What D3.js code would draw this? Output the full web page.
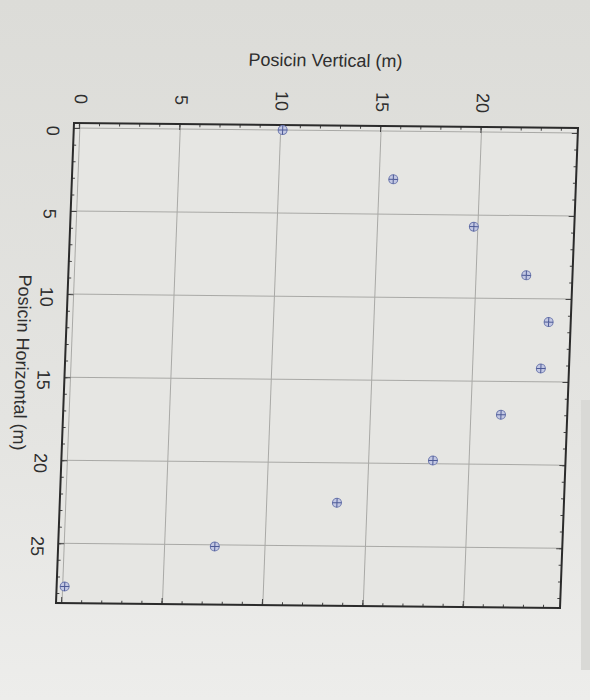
<!DOCTYPE html>
<html>
<head>
<meta charset="utf-8">
<script src="https://cdn.jsdelivr.net/npm/d3@7"></script>
<style>
  html, body { margin: 0; padding: 0; background: #e4e4e1; }
  svg { display: block; }
</style>
</head>
<body>
<svg id="chart" width="590" height="700"></svg>
<script>
// ---- data ----
const horizontalPos = [0, 2.9, 5.7, 8.6, 11.4, 14.2, 17.0, 19.8, 22.4, 25.1, 27.6];
const verticalPos   = [10.1, 15.7, 19.8, 22.5, 23.7, 23.4, 21.5, 18.2, 13.5, 7.5, 0.1];
const xTickValues = [0, 5, 10, 15, 20, 25];
const yTickValues = [0, 5, 10, 15, 20];
const xTitle = "Posicin Horizontal (m)";
const yTitle = "Posicin Vertical (m)";

const svg = d3.select("#chart");
const defs = svg.append("defs");
const bg = defs.append("linearGradient").attr("id", "bg").attr("x1", 0).attr("y1", 0).attr("x2", 0).attr("y2", 1);
bg.append("stop").attr("offset", "0%").attr("stop-color", "#dcdcd8");
bg.append("stop").attr("offset", "60%").attr("stop-color", "#e4e4e1");
bg.append("stop").attr("offset", "100%").attr("stop-color", "#ededeb");
svg.append("rect").attr("width", 590).attr("height", 700).attr("fill", "url(#bg)");
svg.append("rect").attr("x", 581).attr("y", 400).attr("width", 9).attr("height", 270).attr("fill", "#d9d9d6");

// native (unrotated) plot size
const W = 480, H = 504;
const x = d3.scaleLinear().domain([-0.3, 28.6]).range([0, W]);
const y = d3.scaleLinear().domain([-0.3, 24.8]).range([H, 0]);

// the photographed page is turned a quarter turn (plus a slight tilt)
const g = svg.append("g").attr("transform", "matrix(-0.0375,1,-1,-0.0099,578,128)");

g.append("rect").attr("width", W).attr("height", H).attr("fill", "#e6e6e3");

// grid
g.append("g").selectAll("line").data(xTickValues).join("line")
  .attr("x1", d => x(d)).attr("x2", d => x(d)).attr("y1", 0).attr("y2", H)
  .attr("stroke", "#a9a9a6").attr("stroke-width", 1);
g.append("g").selectAll("line").data(yTickValues).join("line")
  .attr("y1", d => y(d)).attr("y2", d => y(d)).attr("x1", 0).attr("x2", W)
  .attr("stroke", "#a9a9a6").attr("stroke-width", 1);

// minor + major inward ticks on all four sides
const xMinor = d3.range(0, 29), yMinor = d3.range(0, 25);
function styleAxis(sel) {
  sel.select(".domain").remove();
  sel.selectAll(".tick line").attr("stroke", "#444");
}
g.append("g").attr("transform", `translate(0,${H})`)
  .call(d3.axisBottom(x).tickValues(xMinor).tickSize(-3).tickFormat("")).call(styleAxis);
g.append("g").attr("transform", `translate(0,${H})`)
  .call(d3.axisBottom(x).tickValues(xTickValues).tickSize(-6).tickFormat("")).call(styleAxis);
g.append("g")
  .call(d3.axisTop(x).tickValues(xMinor).tickSize(-3).tickFormat("")).call(styleAxis);
g.append("g")
  .call(d3.axisTop(x).tickValues(xTickValues).tickSize(-6).tickFormat("")).call(styleAxis);
g.append("g")
  .call(d3.axisLeft(y).tickValues(yMinor).tickSize(-3).tickFormat("")).call(styleAxis);
g.append("g")
  .call(d3.axisLeft(y).tickValues(yTickValues).tickSize(-6).tickFormat("")).call(styleAxis);
g.append("g").attr("transform", `translate(${W},0)`)
  .call(d3.axisRight(y).tickValues(yMinor).tickSize(-3).tickFormat("")).call(styleAxis);
g.append("g").attr("transform", `translate(${W},0)`)
  .call(d3.axisRight(y).tickValues(yTickValues).tickSize(-6).tickFormat("")).call(styleAxis);

// frame
g.append("rect").attr("width", W).attr("height", H)
  .attr("fill", "none").attr("stroke", "#2b2b2b").attr("stroke-width", 2);

// tick labels
const font = "'Liberation Sans', Arial, Helvetica, sans-serif";
g.append("g").selectAll("text").data(xTickValues).join("text")
  .attr("x", d => x(d) + 3).attr("y", H + 21)
  .attr("text-anchor", "middle").attr("dominant-baseline", "central")
  .attr("font-family", font).attr("font-size", 18).attr("fill", "#2e2e2e")
  .text(d => d);
g.append("g").selectAll("text").data(yTickValues).join("text")
  .attr("x", -24).attr("y", d => y(d))
  .attr("text-anchor", "middle").attr("dominant-baseline", "central")
  .attr("font-family", font).attr("font-size", 18).attr("fill", "#2e2e2e")
  .text(d => d);

// axis titles
g.append("text").attr("x", 240).attr("y", H + 43)
  .attr("text-anchor", "middle").attr("dominant-baseline", "central")
  .attr("font-family", font).attr("font-size", 18).attr("fill", "#2e2e2e")
  .text(xTitle);
g.append("text").attr("transform", `translate(-65,${H - 249}) rotate(-90)`)
  .attr("text-anchor", "middle").attr("dominant-baseline", "central")
  .attr("font-family", font).attr("font-size", 18).attr("fill", "#2e2e2e")
  .text(yTitle);

// data markers: circle with cross
const pts = horizontalPos.map((h, i) => ({ h, v: verticalPos[i] }));
const m = g.append("g").selectAll("g").data(pts).join("g")
  .attr("transform", d => `translate(${x(d.h)},${y(d.v)})`);
m.append("circle").attr("r", 4.5)
  .attr("fill", "#c3c8e3").attr("stroke", "#6a76ad").attr("stroke-width", 1);
m.append("path").attr("d", "M-4.5,0H4.5M0,-4.5V4.5")
  .attr("stroke", "#4d5a96").attr("stroke-width", 1);
</script>
</body>
</html>
